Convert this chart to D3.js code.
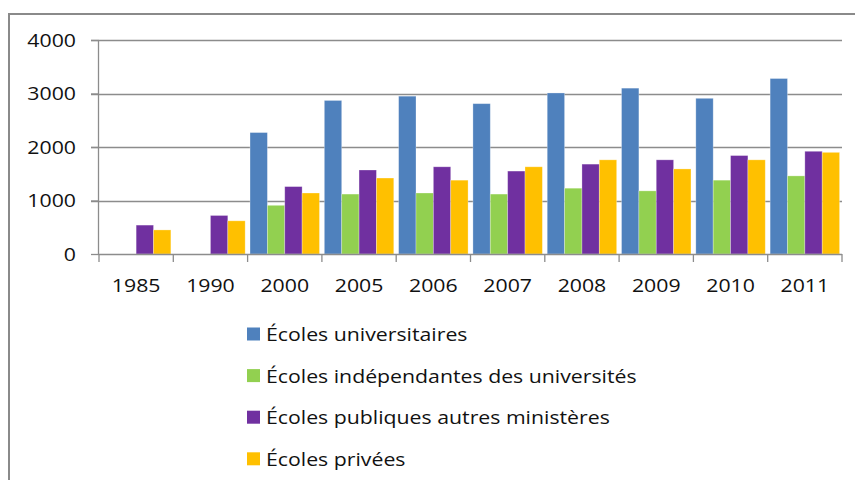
<!DOCTYPE html>
<html><head><meta charset="utf-8">
<script src="https://cdn.jsdelivr.net/npm/d3@7"></script>
<style>body{margin:0;background:#fff}svg{display:block}</style>
</head><body>
<svg id="c" width="855" height="480"></svg>
<script>
const categories = ["1985","1990","2000","2005","2006","2007","2008","2009","2010","2011"];
const seriesNames = ["Écoles universitaires","Écoles indépendantes des universités","Écoles publiques autres ministères","Écoles privées"];
const universitaires = [null,null,2270,2870,2950,2810,3010,3100,2910,3280];
const independantes = [null,null,910,1120,1140,1120,1230,1180,1380,1460];
const publiques = [540,720,1260,1570,1630,1550,1680,1760,1840,1920];
const privees = [450,620,1140,1420,1380,1630,1760,1590,1760,1900];
const yTicks = [0,1000,2000,3000,4000];
const colors = ["#4F81BD","#92D050","#7030A0","#FFC000"];

(function(){
const seriesValues = [universitaires, independantes, publiques, privees];
const svg = d3.select("#c");
const FONT = "'Open Sans', sans-serif";
const FS = 19;
const SX = 1.12;

// outer border
svg.append("path").attr("d","M9,480 V14 H855").attr("fill","none").attr("stroke","#8a8a8a").attr("stroke-width",2);

const pl = 99, pr = 842, pt = 40, pb = 254;
const x = d3.scaleBand().domain(categories).range([pl,pr]).paddingInner(0).paddingOuter(0);
const xs = d3.scaleBand().domain(d3.range(4)).range([0,x.bandwidth()]).paddingInner(0).paddingOuter(0.14);
const y = d3.scaleLinear().domain([0,4000]).range([pb,pt]);

// gridlines
svg.append("g").selectAll("line").data(yTicks.filter(d=>d>0)).join("line")
  .attr("x1",pl-8).attr("x2",pr).attr("y1",d=>Math.round(y(d))+0.5).attr("y2",d=>Math.round(y(d))+0.5)
  .attr("stroke","#8c8c8c").attr("stroke-width",1.3);

// bars
const groups = svg.append("g").selectAll("g").data(seriesValues).join("g")
  .attr("fill",(d,i)=>colors[i]);
groups.each(function(vals,si){
  d3.select(this).selectAll("rect").data(categories.map((c,i)=>({c,v:vals[i]})).filter(d=>d.v!=null)).join("rect")
    .attr("x",d=>x(d.c)+xs(si))
    .attr("width",xs.bandwidth())
    .attr("y",d=>y(d.v))
    .attr("height",d=>y(0)-y(d.v))
    .attr("stroke","rgba(255,255,255,0.35)").attr("stroke-width",0.8);
});

// y axis
const yAxis = svg.append("g").attr("transform",`translate(${pl},0)`)
  .call(d3.axisLeft(y).tickValues(yTicks).tickSize(8).tickFormat(d3.format("d")));
yAxis.select(".domain").attr("stroke","#8c8c8c").attr("stroke-width",1.3).attr("d",`M-0.5,${pt}V${pb}`);
yAxis.selectAll(".tick line").attr("stroke","#8c8c8c").attr("stroke-width",1.3);
yAxis.selectAll(".tick text").each(function(){
  const t = d3.select(this);
  t.attr("x",null).attr("dy",null).attr("y",null)
   .attr("transform",`translate(-23,6) scale(${SX},1)`)
   .attr("font-family",FONT).attr("font-size",FS).attr("fill","#111").attr("text-anchor","end");
});

// x axis
const xAxis = svg.append("g").attr("transform",`translate(0,${pb})`)
  .call(d3.axisBottom(x).tickSize(0).tickPadding(0));
xAxis.select(".domain").attr("stroke","#8c8c8c").attr("stroke-width",1.3).attr("d",`M${pl},0.5H${pr}`);
xAxis.selectAll(".tick text").attr("y",null).attr("dy",null)
  .attr("transform",`translate(0,38) scale(${SX},1)`)
  .attr("font-family",FONT).attr("font-size",FS).attr("fill","#111");
// category boundary ticks
svg.append("g").selectAll("line").data(d3.range(categories.length+1)).join("line")
  .attr("x1",i=>pl+i*x.step()).attr("x2",i=>pl+i*x.step())
  .attr("y1",pb).attr("y2",pb+8)
  .attr("stroke","#8c8c8c").attr("stroke-width",1.3);

// legend
const lg = svg.append("g").selectAll("g").data(seriesNames).join("g")
  .attr("transform",(d,i)=>`translate(247,${334+i*41.6})`);
lg.append("rect").attr("x",0).attr("y",-6.5).attr("width",13).attr("height",13).attr("fill",(d,i)=>colors[i]);
lg.append("text").text(d=>d).attr("transform",`translate(19,7) scale(${SX},1)`)
  .attr("font-family",FONT).attr("font-size",FS).attr("fill","#111");
})();
</script>
</body></html>
